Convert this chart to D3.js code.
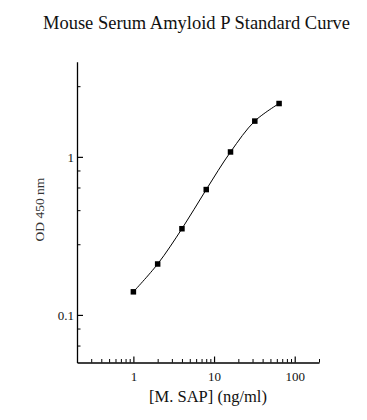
<!DOCTYPE html>
<html><head><meta charset="utf-8">
<script src="https://cdn.jsdelivr.net/npm/d3@7"></script>
<style>html,body{margin:0;padding:0;background:#fff;}svg{display:block;}</style>
</head><body>
<svg id="chart" width="367" height="420"></svg>
<script>
// Data
const concentrations = [1, 2, 4, 8, 16, 32, 64];
const odValues = [0.140, 0.210, 0.351, 0.621, 1.074, 1.684, 2.175];
const xMajorTicks = [1, 10, 100];
const xTickLabels = ["1", "10", "100"];
const xMinorTicks = [0.2,0.3,0.4,0.5,0.6,0.7,0.8,0.9,2,3,4,5,6,7,8,9,20,30,40,50,60,70,80,90,200];
const yMajorTicks = [0.1, 1];
const yTickLabels = ["0.1", "1"];
const yMinorTicks = [0.064, 0.082, 0.28, 0.46, 0.64, 0.82, 2.8];
const titleText = "Mouse Serum Amyloid P Standard Curve";
const xLabel = "[M. SAP] (ng/ml)";
const yLabel = "OD 450 nm";

const svg = d3.select("#chart");
const font = "Liberation Serif";
const x = d3.scaleLog().domain([0.2, 200]).range([77, 319]);
const y = d3.scaleLog().domain([0.05, 4]).range([362.5, 61.7]);

// Title
svg.append("text").attr("x", 196.5).attr("y", 29).attr("text-anchor", "middle")
  .attr("font-family", font).attr("font-size", 18.5).attr("fill", "#111").text(titleText);

// X axis
const xAxis = d3.axisBottom(x).tickValues(xMajorTicks).tickFormat((d,i)=>xTickLabels[i]).tickSizeInner(-6).tickSizeOuter(0).tickPadding(9);
const gx = svg.append("g").attr("transform", "translate(0,362.5)").call(xAxis).attr("font-family", font).attr("font-size", 13);
gx.select(".domain").attr("stroke", "#000").attr("stroke-width", 1.3);
gx.selectAll(".tick line").attr("stroke", "#000").attr("stroke-width", 1.2);
gx.selectAll("text").attr("fill", "#111");
const xMinor = d3.axisBottom(x).tickValues(xMinorTicks).tickFormat("").tickSizeInner(-3.5).tickSizeOuter(0);
const gxm = svg.append("g").attr("transform", "translate(0,362.5)").call(xMinor);
gxm.select(".domain").remove();
gxm.selectAll(".tick line").attr("stroke", "#000").attr("stroke-width", 1);

// Y axis
const yAxis = d3.axisLeft(y).tickValues(yMajorTicks).tickFormat((d,i)=>yTickLabels[i]).tickSizeInner(-6).tickSizeOuter(0).tickPadding(3);
const gy = svg.append("g").attr("transform", "translate(77,0)").call(yAxis).attr("font-family", font).attr("font-size", 13);
gy.select(".domain").attr("stroke", "#000").attr("stroke-width", 1.3);
gy.selectAll(".tick line").attr("stroke", "#000").attr("stroke-width", 1.2);
gy.selectAll("text").attr("fill", "#111");
const yMinor = d3.axisLeft(y).tickValues(yMinorTicks).tickFormat("").tickSizeInner(-3.5).tickSizeOuter(0);
const gym = svg.append("g").attr("transform", "translate(77,0)").call(yMinor);
gym.select(".domain").remove();
gym.selectAll(".tick line").attr("stroke", "#000").attr("stroke-width", 1);

// Axis labels
svg.append("text").attr("x", 208).attr("y", 402).attr("text-anchor", "middle")
  .attr("font-family", font).attr("font-size", 16.5).attr("fill", "#111").text(xLabel);
svg.append("text").attr("transform", "translate(43.5,209.5) rotate(-90)").attr("text-anchor", "middle")
  .attr("font-family", font).attr("font-size", 13.5).attr("fill", "#333").text(yLabel);

// Curve
const pts = concentrations.map((c,i)=>[c, odValues[i]]);
const line = d3.line().x(d=>x(d[0])).y(d=>y(d[1])).curve(d3.curveCatmullRom.alpha(0.5));
svg.append("path").datum(pts).attr("d", line).attr("fill", "none").attr("stroke", "#000").attr("stroke-width", 1);

// Markers
svg.selectAll("rect.pt").data(pts).enter().append("rect").attr("class", "pt")
  .attr("x", d=>x(d[0]) - 2.75).attr("y", d=>y(d[1]) - 2.75).attr("width", 5.5).attr("height", 5.5).attr("fill", "#000");
</script>
</body></html>
